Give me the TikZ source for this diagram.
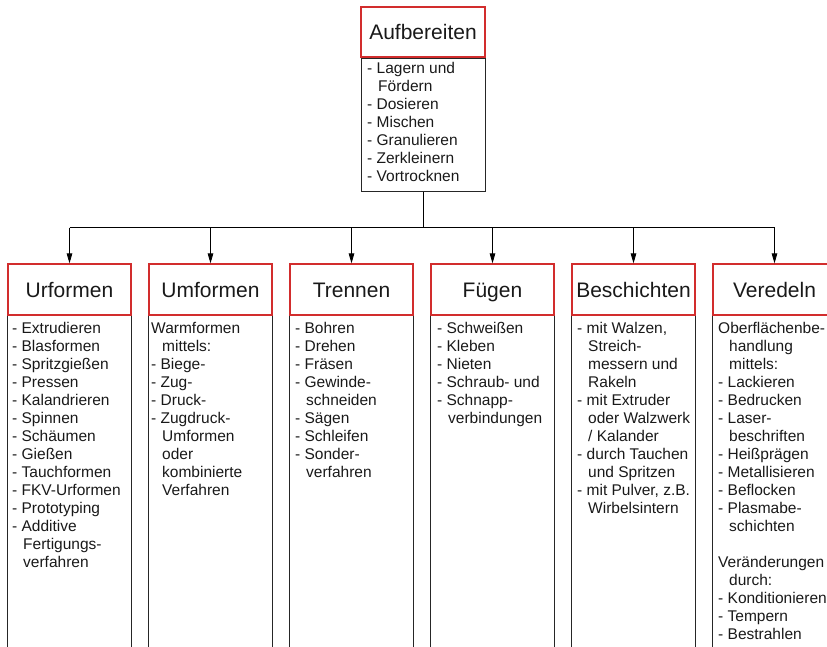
\documentclass[tikz,border=0pt]{standalone}
\usepackage{fontspec}
\setmainfont{Liberation Sans}
\usetikzlibrary{arrows.meta}
\definecolor{hdrred}{RGB}{210,45,45}
\definecolor{txt}{RGB}{25,25,25}
\newcommand{\hg}{\hspace*{11pt}}
\begin{document}
\begin{tikzpicture}[x=1pt,y=-1pt,
  hdr/.style={draw=hdrred,line width=1.2pt,minimum width=123pt,minimum height=51pt,inner sep=0pt,
    font=\fontsize{21}{25}\selectfont,text=txt,text height=15pt,text depth=0pt},
  lst/.style={inner sep=0pt,anchor=base west,font=\fontsize{15.5}{18}\selectfont,text=txt},
  frame/.style={draw=black!85,line width=1pt},
  conn/.style={draw=black,line width=0.9pt},
  arr/.style={conn,-{Triangle[length=10pt,width=5.5pt]}}]

\useasboundingbox (0,0) rectangle (827,647);
\coordinate (bus) at (423,227.5);
\coordinate (bottom) at (0,647);

% top box
\node[hdr,minimum width=124pt,minimum height=50pt] (auf) at (423,32) {Aufbereiten};
\node[frame,minimum width=124pt,minimum height=133pt,inner sep=0pt,anchor=north] (aufbox) at (auf.south) {};
\node[lst] (aufT) at (367,74) {\parbox[t]{115pt}{- Lagern und\\\hg Fördern\\- Dosieren\\- Mischen\\- Granulieren\\- Zerkleinern\\- Vortrocknen}};

% column headers
\node[hdr] (urf) at (69.5,289.5) {Urformen};
\node[hdr] (umf) at (210.5,289.5) {Umformen};
\node[hdr] (tre) at (351.5,289.5) {Trennen};
\node[hdr] (fue) at (492.5,289.5) {Fügen};
\node[hdr] (bes) at (633.5,289.5) {Beschichten};
\node[hdr] (ver) at (774.5,289.5) {Veredeln};

% column frames
\foreach \n in {urf,umf,tre,fue,bes,ver}{
  \draw[frame] (\n.south west) -- (\n.south west |- bottom);
  \draw[frame] (\n.south east) -- (\n.south east |- bottom);
}

% connectors
\draw[conn] (aufbox.south) -- (bus);
\draw[conn] (urf.north |- bus) -- (ver.north |- bus);
\foreach \n in {urf,umf,tre,fue,bes,ver}{
  \draw[arr] (\n.north |- bus) -- (\n.north);
}

% lists
\node[lst] (urfT) at (12,333) {\parbox[t]{118pt}{- Extrudieren\\- Blasformen\\- Spritzgießen\\- Pressen\\- Kalandrieren\\- Spinnen\\- Schäumen\\- Gießen\\- Tauchformen\\- FKV-Urformen\\- Prototyping\\- Additive\\\hg Fertigungs-\\\hg verfahren}};
\node[lst] (umfT) at (151,333) {\parbox[t]{118pt}{Warmformen\\\hg mittels:\\- Biege-\\- Zug-\\- Druck-\\- Zugdruck-\\\hg Umformen\\\hg oder\\\hg kombinierte\\\hg Verfahren}};
\node[lst] (treT) at (295,333) {\parbox[t]{118pt}{- Bohren\\- Drehen\\- Fräsen\\- Gewinde-\\\hg schneiden\\- Sägen\\- Schleifen\\- Sonder-\\\hg verfahren}};
\node[lst] (fueT) at (437,333) {\parbox[t]{118pt}{- Schweißen\\- Kleben\\- Nieten\\- Schraub- und\\- Schnapp-\\\hg verbindungen}};
\node[lst] (besT) at (577,333) {\parbox[t]{118pt}{- mit Walzen,\\\hg Streich-\\\hg messern und\\\hg Rakeln\\- mit Extruder\\\hg oder Walzwerk\\\hg / Kalander\\- durch Tauchen\\\hg und Spritzen\\- mit Pulver, z.B.\\\hg Wirbelsintern}};
\node[lst] (verT) at (718,333) {\parbox[t]{130pt}{Oberflächenbe-\\\hg handlung\\\hg mittels:\\- Lackieren\\- Bedrucken\\- Laser-\\\hg beschriften\\- Heißprägen\\- Metallisieren\\- Beflocken\\- Plasmabe-\\\hg schichten\\[18pt]Veränderungen\\\hg durch:\\- Konditionieren\\- Tempern\\- Bestrahlen}};
\end{tikzpicture}
\end{document}
